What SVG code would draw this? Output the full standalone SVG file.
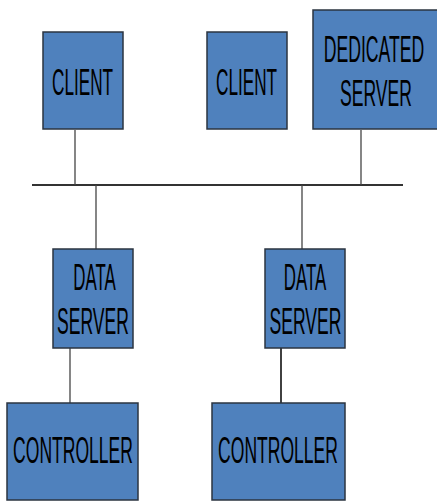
<svg xmlns="http://www.w3.org/2000/svg" width="437" height="501" viewBox="0 0 437 501">
  <style>
    .box { fill: #4F81BD; stroke: #2b3440; stroke-width: 1.5; }
    .lbl { font-family: "Liberation Sans", Arial, sans-serif; font-size: 37px; fill: #000; text-anchor: middle; }
    .wire { stroke: #444; stroke-width: 1.3; fill: none; }
    .bus { stroke: #333; stroke-width: 2; fill: none; }
  </style>
  <rect width="437" height="501" fill="#fff"/>

  <g id="connectors">
    <line class="bus" x1="32" y1="185" x2="403" y2="185"/>
    <line class="wire" x1="75" y1="130" x2="75" y2="185"/>
    <line class="wire" x1="361" y1="130" x2="361" y2="185"/>
    <line class="wire" x1="96" y1="185" x2="96" y2="249"/>
    <line class="wire" x1="302" y1="185" x2="302" y2="249"/>
    <line class="wire" x1="70" y1="348" x2="70" y2="403"/>
    <line class="wire" x1="281" y1="348" x2="281" y2="403" style="stroke:#111;stroke-width:1.6"/>
  </g>

  <!-- labels use a condensed look: horizontal scale of 0.47 -->
  <g id="client1">
    <rect class="box" x="43" y="32" width="80" height="97"/>
    <text class="lbl" transform="translate(82.5,95) scale(0.464,1)">CLIENT</text>
  </g>

  <g id="client2">
    <rect class="box" x="207" y="32" width="80" height="97"/>
    <text class="lbl" transform="translate(246.5,95) scale(0.464,1)">CLIENT</text>
  </g>

  <g id="dedicated-server">
    <rect class="box" x="313" y="10" width="126" height="119"/>
    <text class="lbl" transform="translate(374,62) scale(0.477,1)">DEDICATED</text>
    <text class="lbl" transform="translate(376,106) scale(0.474,1)">SERVER</text>
  </g>

  <g id="data-server1">
    <rect class="box" x="53" y="249" width="80" height="99"/>
    <text class="lbl" transform="translate(94.5,290) scale(0.456,1)">DATA</text>
    <text class="lbl" transform="translate(93,334) scale(0.474,1)">SERVER</text>
  </g>

  <g id="data-server2">
    <rect class="box" x="265" y="249" width="80" height="99"/>
    <text class="lbl" transform="translate(305,290) scale(0.456,1)">DATA</text>
    <text class="lbl" transform="translate(305.5,334) scale(0.474,1)">SERVER</text>
  </g>

  <g id="controller1">
    <rect class="box" x="7" y="403" width="131" height="97"/>
    <text class="lbl" transform="translate(73,463) scale(0.474,1)">CONTROLLER</text>
  </g>

  <g id="controller2">
    <rect class="box" x="212" y="403" width="133" height="97"/>
    <text class="lbl" transform="translate(278,463) scale(0.474,1)">CONTROLLER</text>
  </g>
</svg>
